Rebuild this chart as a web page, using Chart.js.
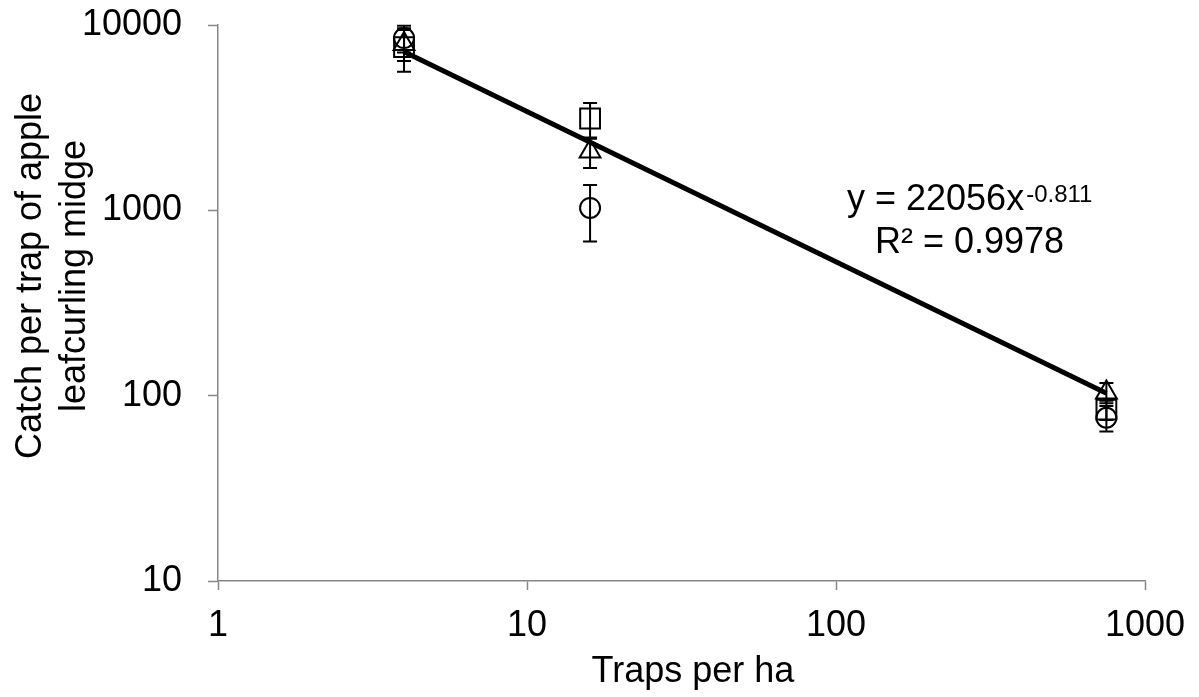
<!DOCTYPE html>
<html>
<head>
<meta charset="utf-8">
<script src="https://cdn.jsdelivr.net/npm/chart.js@4.4.1/dist/chart.umd.min.js"></script>
<style>
  html, body { margin: 0; padding: 0; background: #fff; }
</style>
</head>
<body>
<canvas id="chart" width="1199" height="697"></canvas>
<script>
// Traps per ha (x) and catch per trap (y)
const trapsPerHa = [4, 16, 750];

const circleCatch = [8500, 1030, 76];
const circleLow = [7100, 680, 64];
const circleHigh = [9900, 1370, 88];

const squareCatch = [7600, 3130, 84];
const squareLow = [5600, 2470, 74];
const squareHigh = [9600, 3790, 94];

const triangleCatch = [7900, 2080, 104];
const triangleLow = [6400, 1690, 91];
const triangleHigh = [9400, 2430, 117];

// Power trendline end points
const trendX = [4, 750];
const trendY = [7170, 103];

const xTicks = [1, 10, 100, 1000];
const yTicks = [10, 100, 1000, 10000];

const FONT = "'Liberation Sans', Arial, sans-serif";

function toPoints(xs, ys) {
    return xs.map((x, i) => ({ x: x, y: ys[i] }));
}

// Draws vertical error bars with caps for datasets carrying errLow / errHigh
const errorBarPlugin = {
    id: 'errorBars',
    afterDatasetsDraw(chart) {
        const ctx = chart.ctx;
        const yScale = chart.scales.y;
        chart.data.datasets.forEach((ds, i) => {
            if (!ds.errLow) return;
            const meta = chart.getDatasetMeta(i);
            ctx.save();
            ctx.strokeStyle = '#000';
            ctx.lineWidth = 2;
            meta.data.forEach((pt, j) => {
                const yLo = yScale.getPixelForValue(ds.errLow[j]);
                const yHi = yScale.getPixelForValue(ds.errHigh[j]);
                ctx.beginPath();
                ctx.moveTo(pt.x, yLo);
                ctx.lineTo(pt.x, yHi);
                ctx.moveTo(pt.x - 7, yLo);
                ctx.lineTo(pt.x + 7, yLo);
                ctx.moveTo(pt.x - 7, yHi);
                ctx.lineTo(pt.x + 7, yHi);
                ctx.stroke();
            });
            ctx.restore();
        });
    }
};

// Axis titles and trendline equation
const textPlugin = {
    id: 'texts',
    afterDraw(chart) {
        const ctx = chart.ctx;
        ctx.save();
        ctx.fillStyle = '#000';
        ctx.font = '36px ' + FONT;
        ctx.textBaseline = 'alphabetic';

        // x title
        ctx.textAlign = 'center';
        ctx.fillText('Traps per ha', 693, 682);

        // y title (two lines, rotated)
        ctx.save();
        ctx.translate(0, 276);
        ctx.rotate(-Math.PI / 2);
        ctx.fillText('Catch per trap of apple', 0, 41);
        ctx.fillText('leafcurling midge', 0, 85);
        ctx.restore();

        // equation
        ctx.textAlign = 'left';
        const main = 'y = 22056x';
        ctx.fillText(main, 847, 210);
        const w = ctx.measureText(main).width;
        ctx.font = '24px ' + FONT;
        ctx.fillText('-0.811', 847 + w + 2, 202);
        ctx.font = '36px ' + FONT;
        ctx.fillText('R\u00B2 = 0.9978', 875, 253);
        ctx.restore();
    }
};

const markerStyle = {
    borderColor: '#000',
    backgroundColor: 'rgba(0,0,0,0)',
    pointBorderColor: '#000',
    pointBackgroundColor: 'rgba(0,0,0,0)',
    pointBorderWidth: 2,
    showLine: false
};

const config = {
    type: 'scatter',
    data: {
        datasets: [
            {
                type: 'line',
                label: 'Trend',
                data: toPoints(trendX, trendY),
                borderColor: '#000',
                borderWidth: 5,
                pointRadius: 0,
                fill: false
            },
            Object.assign({
                label: 'Circle',
                data: toPoints(trapsPerHa, circleCatch),
                pointStyle: 'circle',
                pointRadius: 10,
                errLow: circleLow,
                errHigh: circleHigh
            }, markerStyle),
            Object.assign({
                label: 'Square',
                data: toPoints(trapsPerHa, squareCatch),
                pointStyle: 'rect',
                pointRadius: 14,
                errLow: squareLow,
                errHigh: squareHigh
            }, markerStyle),
            Object.assign({
                label: 'Triangle',
                data: toPoints(trapsPerHa, triangleCatch),
                pointStyle: 'triangle',
                pointRadius: 12,
                errLow: triangleLow,
                errHigh: triangleHigh
            }, markerStyle)
        ]
    },
    options: {
        responsive: false,
        animation: false,
        layout: {
            padding: { top: 25, right: 54, left: 0, bottom: 0 }
        },
        plugins: {
            legend: { display: false },
            tooltip: { enabled: false }
        },
        scales: {
            x: {
                type: 'logarithmic',
                min: 1,
                max: 1000,
                afterBuildTicks: (scale) => { scale.ticks = xTicks.map(v => ({ value: v })); },
                afterFit: (scale) => {
                    scale.height = 116;
                    scale.paddingLeft = 0;
                    scale.paddingRight = 0;
                },
                grid: {
                    drawOnChartArea: false,
                    drawTicks: true,
                    tickLength: 9,
                    tickWidth: 1.5,
                    color: '#868686'
                },
                border: { color: '#868686', width: 1.5 },
                ticks: {
                    color: '#000',
                    font: { family: FONT, size: 36 },
                    padding: 14,
                    maxRotation: 0,
                    autoSkip: false,
                    callback: (v) => String(v)
                }
            },
            y: {
                type: 'logarithmic',
                min: 10,
                max: 10000,
                afterBuildTicks: (scale) => { scale.ticks = yTicks.map(v => ({ value: v })); },
                afterFit: (scale) => {
                    scale.width = 218;
                    scale.paddingTop = 0;
                    scale.paddingBottom = 0;
                },
                grid: {
                    drawOnChartArea: false,
                    drawTicks: true,
                    tickLength: 10,
                    tickWidth: 1.5,
                    color: '#868686'
                },
                border: { color: '#868686', width: 1.5 },
                ticks: {
                    color: '#000',
                    font: { family: FONT, size: 36 },
                    padding: 26,
                    autoSkip: false,
                    callback: (v) => String(v)
                }
            }
        }
    },
    plugins: [errorBarPlugin, textPlugin]
};

new Chart(document.getElementById('chart').getContext('2d'), config);
</script>
</body>
</html>
